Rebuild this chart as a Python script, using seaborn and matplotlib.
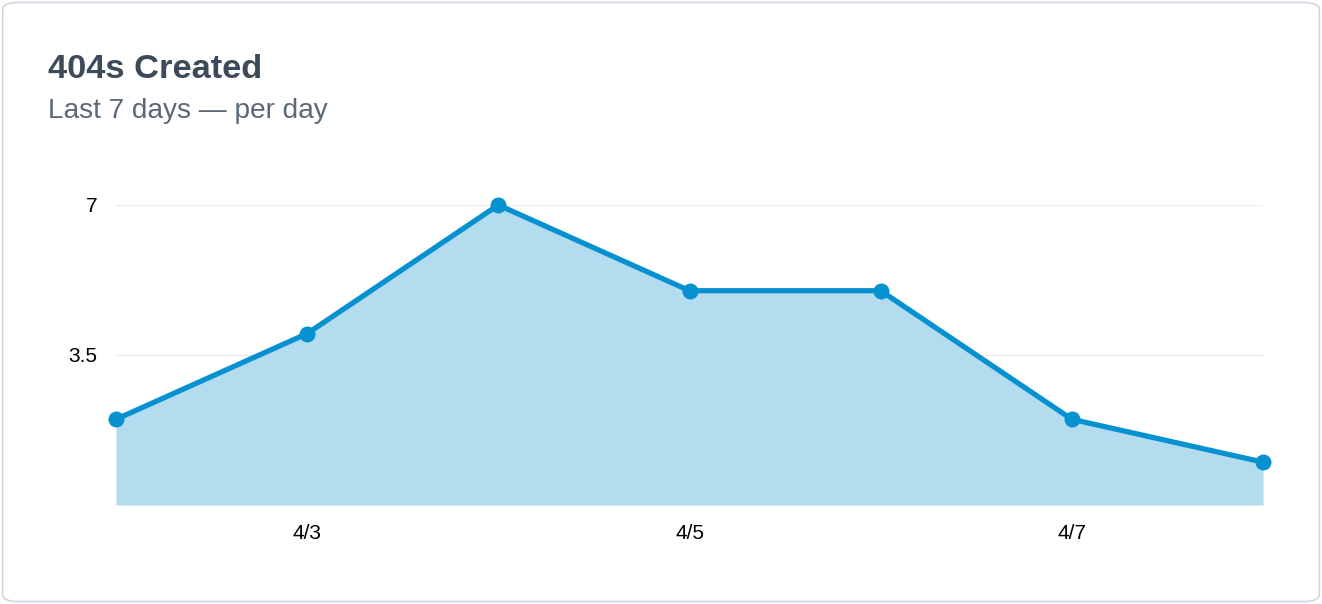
import numpy as np
import pandas as pd
import seaborn as sns
import matplotlib.pyplot as plt
from matplotlib.patches import FancyBboxPatch

#--Data
days = ['4/2', '4/3', '4/4', '4/5', '4/6', '4/7', '4/8']
counts = [2, 4, 7, 5, 5, 2, 1]
y_ticks = [3.5, 7]
x_tick_labels = ['4/3', '4/5', '4/7']

df = pd.DataFrame({'idx': np.arange(len(days)), 'day': days, 'count': counts})

line_color = '#0891d1'
fill_color = '#b3ddef'

sns.set_theme(style='white')
plt.rcParams['font.family'] = ['Liberation Sans', 'DejaVu Sans']

fig = plt.figure(figsize=(13.22, 6.04), dpi=100)

#Card background with rounded border
card = FancyBboxPatch((0.002, 0.004), 0.996, 0.992,
                      boxstyle='round,pad=0,rounding_size=0.012',
                      transform=fig.transFigure, facecolor='white',
                      edgecolor='#cfd6e0', linewidth=1.2, zorder=-1)
fig.patches.append(card)

ax = fig.add_axes([116 / 1322, 1 - 505 / 604, (1263 - 116) / 1322, (505 - 205) / 604])
ax.set_zorder(2)
ax.set_facecolor('none')

ax.fill_between(df['idx'], 0, df['count'], color=fill_color, linewidth=0, zorder=1)
sns.lineplot(data=df, x='idx', y='count', ax=ax, color=line_color, linewidth=3.8,
             marker='o', markersize=11.5, markeredgewidth=0, clip_on=False, zorder=3)

ax.set_xlim(0, len(days) - 1)
ax.set_ylim(0, 7)
ax.set_yticks(y_ticks)
ax.set_yticklabels(['3.5', '7'])
ax.set_xticks([days.index(d) for d in x_tick_labels])
ax.set_xticklabels(x_tick_labels)
ax.tick_params(axis='both', length=0, labelsize=15, labelcolor='black')
ax.tick_params(axis='y', pad=13.5)
ax.tick_params(axis='x', pad=14)
ax.grid(axis='y', color='#ececec', linewidth=1, zorder=0)
ax.set_axisbelow(True)
for s in ax.spines.values():
    s.set_visible(False)
ax.axhline(0, color='#a9d6ea', linewidth=1, zorder=2)
ax.set_xlabel('')
ax.set_ylabel('')

#Titles
fig.text(48 / 1322, 1 - 69 / 604, '404s Created', fontsize=24.8, fontweight='bold',
         color='#3d4a5a', ha='left', va='center')
fig.text(48 / 1322, 1 - 111 / 604, 'Last 7 days \u2014 per day', fontsize=20.2,
         color='#5b6878', ha='left', va='center')

fig.savefig('out.png', dpi=100)
